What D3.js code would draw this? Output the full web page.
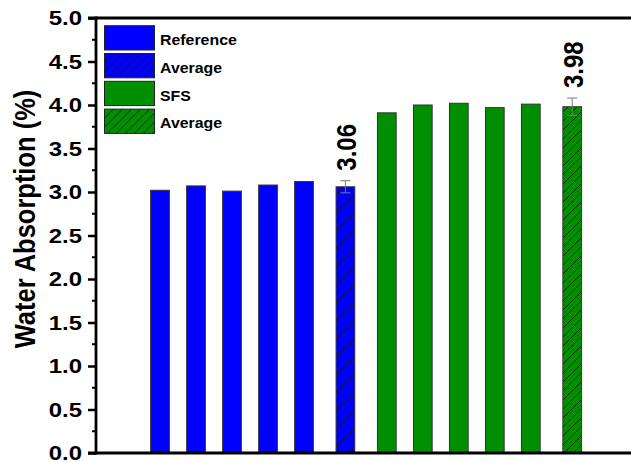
<!DOCTYPE html>
<html>
<head>
<meta charset="utf-8">
<script src="https://cdn.jsdelivr.net/npm/d3@7/dist/d3.min.js"></script>
<style>
  html, body { margin: 0; padding: 0; background: #fff; }
  svg { display: block; }
  text { font-family: "Liberation Sans", Arial, sans-serif; font-weight: bold; fill: #000; }
</style>
</head>
<body>
<svg id="chart" width="631" height="462"></svg>
<script>
// Water absorption of individual specimens (%) and group averages
const groups = ["Reference", "SFS"];
const referenceValues = [3.02, 3.07, 3.01, 3.08, 3.12];
const sfsValues = [3.91, 4.00, 4.02, 3.97, 4.01];
const averages = [3.06, 3.98];
const averageErrors = [0.07, 0.10];
const legendLabels = ["Reference", "Average", "SFS", "Average"];
const yTicks = [0, 0.5, 1.0, 1.5, 2.0, 2.5, 3.0, 3.5, 4.0, 4.5, 5.0];
const groupColors = ["#0000ff", "#008f00"];

const width = 631, height = 462;
const margin = { left: 96, top: 18, bottom: 9 };
const svg = d3.select("#chart");

// Hatch pattern for the average bars
const defs = svg.append("defs");
groupColors.forEach((c, i) => {
  const p = defs.append("pattern")
    .attr("id", "hatch" + i)
    .attr("patternUnits", "userSpaceOnUse")
    .attr("width", 9).attr("height", 9);
  p.append("rect").attr("width", 9).attr("height", 9).attr("fill", c);
  p.append("path")
    .attr("d", "M-1,1 l2,-2 M0,9 l9,-9 M8,10 l2,-2")
    .attr("stroke", "#111").attr("stroke-width", 0.8);
});

// Slot layout: samples sit one slot apart, averages get a wider gap
const avgGap = 1.15;
const bars = [];
let slot = 0;
[referenceValues, sfsValues].forEach((vals, g) => {
  vals.forEach((v, i) => {
    bars.push({ group: g, value: v, slot: slot, avg: false });
    slot += 1;
  });
  slot += avgGap - 1;
  bars.push({ group: g, value: averages[g], err: averageErrors[g], slot: slot, avg: true });
  slot += avgGap;
});

const x = d3.scaleLinear().domain([-1.778, 13.083]).range([margin.left, width]);
const y = d3.scaleLinear().domain([0, 5]).range([height - margin.bottom, margin.top]);
const barW = 0.52 * (x(1) - x(0));

// Bars
svg.append("g").selectAll("rect")
  .data(bars).join("rect")
  .attr("x", d => x(d.slot) - barW / 2)
  .attr("y", d => y(d.value))
  .attr("width", barW)
  .attr("height", d => y(0) - y(d.value))
  .attr("fill", d => d.avg ? `url(#hatch${d.group})` : groupColors[d.group])
  .attr("stroke", "#333").attr("stroke-width", 1);

// Error bars on the averages
const avgBars = bars.filter(d => d.avg);
const eb = svg.append("g").attr("stroke", "#7a7a7a").attr("stroke-width", 1);
avgBars.forEach(d => {
  const cx = x(d.slot);
  eb.append("line").attr("x1", cx).attr("x2", cx)
    .attr("y1", y(d.value + d.err)).attr("y2", y(d.value - d.err));
  [d.value + d.err, d.value - d.err].forEach(v => {
    eb.append("line").attr("x1", cx - 5).attr("x2", cx + 5)
      .attr("y1", y(v)).attr("y2", y(v));
  });
});

// Value labels above the average bars
svg.append("g").selectAll("text")
  .data(avgBars).join("text")
  .attr("transform", d => `translate(${x(d.slot) + 11},${y(d.value + d.err) - 10}) scale(1.14,1) rotate(-90)`)
  .attr("font-size", 24)
  .attr("text-anchor", "start")
  .text(d => d3.format(".2f")(d.value));

// Y axis
const yAxis = d3.axisLeft(y).tickValues(yTicks).tickSize(8).tickFormat(d3.format(".1f"));
const yg = svg.append("g").attr("transform", `translate(${margin.left},0)`).call(yAxis);
yg.select(".domain").remove();
yg.selectAll(".tick line").attr("stroke", "#000").attr("stroke-width", 2.5);
yg.selectAll(".tick text")
  .attr("x", null).attr("dy", null)
  .attr("font-size", 21)
  .attr("text-anchor", "end")
  .attr("transform", "translate(-14,6.5) scale(1.14,1)")
  .style("font-family", '"Liberation Sans", Arial, sans-serif')
  .style("font-weight", "bold");

// Minor ticks
const minor = d3.range(0.25, 5, 0.5);
svg.append("g").selectAll("line").data(minor).join("line")
  .attr("x1", margin.left - 4).attr("x2", margin.left)
  .attr("y1", d => y(d)).attr("y2", d => y(d))
  .attr("stroke", "#000").attr("stroke-width", 2);

// Frame lines: left, top, bottom
const frame = svg.append("g").attr("stroke", "#000").attr("stroke-width", 2.8).attr("fill", "none");
frame.append("line").attr("x1", margin.left).attr("x2", margin.left).attr("y1", y(5) - 1.4).attr("y2", y(0) + 1.4);
frame.append("line").attr("x1", margin.left - 8).attr("x2", width).attr("y1", y(5)).attr("y2", y(5));
frame.append("line").attr("x1", margin.left - 8).attr("x2", width).attr("y1", y(0)).attr("y2", y(0));

// Axis title
svg.append("text")
  .attr("transform", `translate(35,219) scale(1.14,1) rotate(-90)`)
  .attr("text-anchor", "middle")
  .attr("font-size", 25.5)
  .text("Water Absorption (%)");

// Legend
const legendFills = [groupColors[0], "url(#hatch0)", groupColors[1], "url(#hatch1)"];
const lg = svg.append("g").attr("transform", "translate(104.5,25.7)");
legendLabels.forEach((lab, i) => {
  const row = lg.append("g").attr("transform", `translate(0,${i * 27.8})`);
  row.append("rect").attr("width", 50).attr("height", 24.3)
    .attr("fill", legendFills[i]).attr("stroke", "#222").attr("stroke-width", 1);
  row.append("text")
    .attr("transform", "translate(55.5,19.3) scale(1.06,1)")
    .attr("font-size", 15)
    .text(lab);
});
</script>
</body>
</html>
